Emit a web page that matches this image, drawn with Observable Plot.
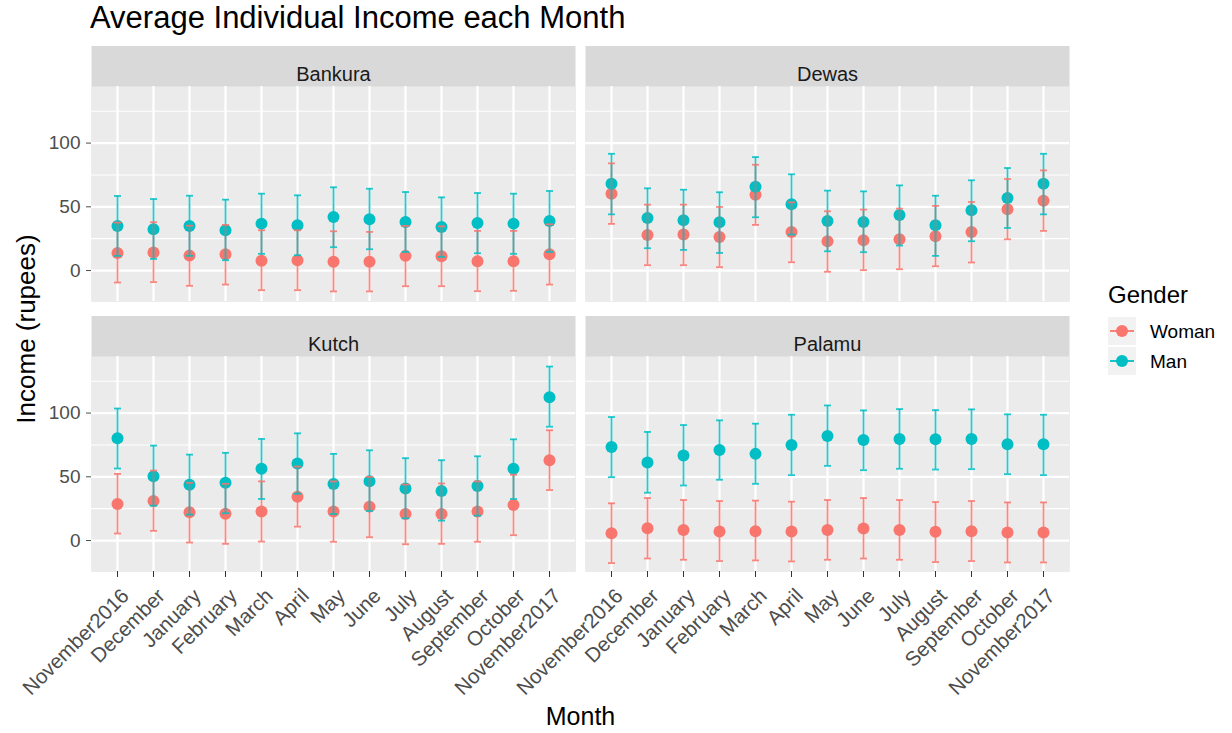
<!DOCTYPE html>
<html>
<head>
<meta charset="utf-8">
<script src="https://cdn.jsdelivr.net/npm/d3@7"></script>
<script src="https://cdn.jsdelivr.net/npm/@observablehq/plot@0.6"></script>
<style>
  html, body { margin: 0; padding: 0; background: #fff; }
  body { width: 1232px; height: 733px; position: relative; overflow: hidden;
         font-family: "Liberation Sans", Arial, sans-serif; }
  #chart { position: absolute; left: 0; top: 0; }
  .abs { position: absolute; white-space: nowrap; line-height: 1; }
  #title { left: 90px; top: 2px; font-size: 31px; color: #000; }
  #xtitle { left: 0; width: 1161px; text-align: center; top: 704px; font-size: 25px; color: #000; }
  #ytitle { left: 26px; top: 329px; font-size: 26px; color: #000; transform: translate(-50%, -50%) rotate(-90deg); }
  #legend { left: 1108px; top: 283px; }
  #legend .lt { font-size: 24px; color: #000; margin-bottom: 9px; }
  #legend .row { display: flex; align-items: center; height: 30px; }
  #legend .row span { font-size: 19px; color: #000; margin-left: 14px; }
</style>
</head>
<body>
<div id="title" class="abs">Average Individual Income each Month</div>
<div id="chart"></div>
<div id="xtitle" class="abs">Month</div>
<div id="ytitle" class="abs">Income (rupees)</div>
<div id="legend" class="abs"></div>
<script>
// ---------- data ----------
const months = ["November2016","December","January","February","March","April","May","June","July","August","September","October","November2017"];
const districts = ["Bankura","Dewas","Kutch","Palamu"];
const genders = ["Woman","Man"];
const genderColors = ["#F8766D","#00BFC4"];
const yTicks = [0, 50, 100];
const yMinorTicks = [25, 75, 125];

const bankuraManMean  = [35.0, 32.4, 35.0, 31.6, 36.8, 35.5, 42.0, 40.2, 38.1, 34.2, 37.3, 36.8, 38.9];
const bankuraManHi    = [58.5, 56.1, 58.7, 55.6, 60.3, 59.0, 65.3, 64.2, 61.6, 57.4, 60.8, 60.3, 62.4];
const bankuraManLo    = [11.5, 9.1, 11.5, 8.1, 13.1, 12.0, 18.3, 16.7, 14.6, 10.7, 13.6, 13.1, 14.6];
const bankuraWomanMean= [13.8, 14.1, 11.7, 12.8, 7.6, 8.1, 6.8, 6.8, 11.5, 11.2, 7.3, 7.3, 12.8];
const bankuraWomanHi  = [37.6, 37.9, 35.2, 35.8, 31.6, 31.6, 30.8, 30.3, 35.0, 34.7, 31.1, 31.1, 36.3];
const bankuraWomanLo  = [-9.4, -9.1, -12.0, -11.0, -15.4, -15.4, -16.4, -16.4, -12.3, -12.3, -16.2, -15.9, -11.0];

const dewasManMean    = [68.1, 41.3, 39.4, 37.9, 65.8, 52.0, 38.9, 38.1, 43.6, 35.5, 47.3, 56.9, 68.1];
const dewasManHi      = [91.6, 64.5, 63.4, 61.4, 89.0, 75.5, 62.7, 62.1, 66.8, 58.7, 70.8, 80.4, 91.6];
const dewasManLo      = [44.1, 17.5, 16.2, 13.8, 41.8, 28.2, 15.1, 14.4, 19.6, 11.5, 23.0, 33.4, 44.1];
const dewasWomanMean  = [60.3, 27.9, 28.2, 26.4, 59.5, 30.3, 23.0, 23.8, 24.5, 26.9, 30.3, 48.0, 54.8];
const dewasWomanHi    = [84.1, 51.7, 51.7, 49.9, 83.0, 53.5, 46.5, 47.8, 48.6, 50.7, 53.8, 71.8, 78.6];
const dewasWomanLo    = [36.6, 4.2, 4.2, 2.6, 35.8, 6.5, -1.0, 0.3, 1.0, 3.4, 6.3, 24.5, 31.1];

const kutchManMean    = [80.2, 50.5, 43.8, 45.3, 56.3, 60.4, 44.3, 46.6, 40.9, 38.8, 42.7, 56.3, 112.5];
const kutchManHi      = [103.6, 74.5, 67.4, 68.8, 79.7, 84.1, 68.0, 70.8, 64.6, 63.0, 66.1, 79.4, 136.5];
const kutchManLo      = [56.5, 27.3, 20.3, 21.4, 32.6, 36.7, 20.8, 23.2, 17.4, 15.6, 19.5, 32.6, 89.3];
const kutchWomanMean  = [28.6, 31.0, 22.1, 21.1, 22.7, 34.4, 22.7, 26.6, 20.8, 20.8, 22.7, 27.9, 63.0];
const kutchWomanHi    = [52.3, 54.9, 45.3, 44.5, 46.4, 58.1, 46.4, 50.0, 44.0, 44.8, 46.4, 51.6, 86.5];
const kutchWomanLo    = [5.5, 7.6, -1.6, -2.6, -0.8, 10.9, -1.0, 2.6, -2.9, -2.6, -1.0, 4.2, 39.6];

const palamuManMean   = [73.4, 61.2, 66.7, 71.1, 68.0, 75.0, 82.0, 78.9, 79.7, 79.4, 79.7, 75.5, 75.5];
const palamuManHi     = [96.9, 85.2, 90.6, 94.3, 91.7, 98.7, 106.0, 102.1, 103.1, 102.3, 102.9, 99.0, 98.7];
const palamuManLo     = [49.7, 37.5, 43.2, 47.7, 44.5, 51.3, 58.6, 55.2, 56.3, 55.7, 56.0, 52.1, 51.3];
const palamuWomanMean = [5.7, 9.6, 8.3, 7.0, 7.3, 7.0, 8.3, 9.4, 8.3, 6.8, 7.3, 6.3, 6.3];
const palamuWomanHi   = [29.2, 33.3, 31.8, 31.0, 31.3, 30.5, 31.8, 33.3, 31.8, 30.2, 31.0, 29.9, 29.9];
const palamuWomanLo   = [-17.7, -14.1, -15.1, -16.1, -15.6, -16.4, -15.1, -14.1, -15.1, -16.9, -16.1, -17.2, -17.2];

const series = {
  Bankura: { Woman: [bankuraWomanMean, bankuraWomanLo, bankuraWomanHi], Man: [bankuraManMean, bankuraManLo, bankuraManHi] },
  Dewas:   { Woman: [dewasWomanMean, dewasWomanLo, dewasWomanHi],       Man: [dewasManMean, dewasManLo, dewasManHi] },
  Kutch:   { Woman: [kutchWomanMean, kutchWomanLo, kutchWomanHi],       Man: [kutchManMean, kutchManLo, kutchManHi] },
  Palamu:  { Woman: [palamuWomanMean, palamuWomanLo, palamuWomanHi],    Man: [palamuManMean, palamuManLo, palamuManHi] }
};

// ---------- build table ----------
const rows = [];
for (const g of genders) {
  districts.forEach((d, i) => {
    const [mean, lo, hi] = series[d][g];
    months.forEach((m, j) => {
      rows.push({district: d, col: i % 2, row: Math.floor(i / 2), gender: g, month: m, mean: mean[j], lo: lo[j], hi: hi[j]});
    });
  });
}
const strips = districts.map((d, i) => ({name: d, col: i % 2, row: Math.floor(i / 2)}));

// horizontal cap symbol for error bars
const capSymbol = {
  draw(context, size) {
    const w = Math.sqrt(size / Math.PI);
    context.moveTo(-w, 0);
    context.lineTo(w, 0);
  }
};

const facet = {fx: "col", fy: "row"};

const chart = Plot.plot({
  width: 1232,
  height: 733,
  marginLeft: 91,
  marginRight: 162,
  marginTop: 86,
  marginBottom: 161,
  style: {fontFamily: "'Liberation Sans', Arial, sans-serif", background: "transparent", overflow: "visible"},
  x: {type: "point", domain: months, padding: 0.58},
  y: {domain: [-24.3, 144.4]},
  fx: {domain: [0, 1], padding: 0.0202, axis: null},
  fy: {domain: [0, 1], padding: 0.2033, axis: null},
  color: {domain: genders, range: genderColors},
  marks: [
    Plot.frame({fill: "#d9d9d9", insetTop: -40.5}),
    Plot.frame({fill: "#ebebeb"}),
    Plot.gridY(yMinorTicks, {stroke: "#ffffff", strokeOpacity: 1, strokeWidth: 1.1}),
    Plot.gridY(yTicks, {stroke: "#ffffff", strokeOpacity: 1, strokeWidth: 2.2}),
    Plot.gridX(months, {stroke: "#ffffff", strokeOpacity: 1, strokeWidth: 2.2}),
    Plot.text(strips, {...facet, text: "name", frameAnchor: "top", dy: -20, fontSize: 20, fill: "#1a1a1a"}),
    Plot.dot(rows, {...facet, x: "month", y: "mean", fill: "gender", r: 6}),
    Plot.ruleX(rows, {...facet, x: "month", y1: "lo", y2: "hi", stroke: "gender", strokeWidth: 1.8, strokeOpacity: 0.85}),
    Plot.dot(rows, {...facet, x: "month", y: "lo", symbol: capSymbol, r: 3.5, fill: "none", stroke: "gender", strokeWidth: 1.8, strokeOpacity: 0.85}),
    Plot.dot(rows, {...facet, x: "month", y: "hi", symbol: capSymbol, r: 3.5, fill: "none", stroke: "gender", strokeWidth: 1.8, strokeOpacity: 0.85}),
    Plot.axisY(yTicks, {tickSize: 5, tickPadding: 6, fontSize: 19, color: "#4d4d4d", label: null}),
    Plot.axisX(months, {tickSize: 6, stroke: "#333333", text: null, label: null}),
    Plot.axisX(months, {tickSize: 0, tickPadding: 9, tickRotate: -45, dx: 8, dy: 12, fontSize: 20.5, color: "#4d4d4d", label: null})
  ]
});
document.getElementById("chart").appendChild(chart);

// ---------- legend ----------
const legend = document.getElementById("legend");
const lt = document.createElement("div");
lt.className = "lt";
lt.textContent = "Gender";
legend.appendChild(lt);
genders.forEach((g, i) => {
  const row = document.createElement("div");
  row.className = "row";
  const svg = d3.create("svg").attr("width", 28).attr("height", 28);
  svg.append("rect").attr("width", 28).attr("height", 28).attr("fill", "#f2f2f2");
  svg.append("line").attr("x1", 2).attr("x2", 26).attr("y1", 14).attr("y2", 14)
     .attr("stroke", genderColors[i]).attr("stroke-width", 1.8);
  svg.append("circle").attr("cx", 14).attr("cy", 14).attr("r", 6).attr("fill", genderColors[i]);
  row.appendChild(svg.node());
  const s = document.createElement("span");
  s.textContent = g;
  row.appendChild(s);
  legend.appendChild(row);
});
</script>
</body>
</html>
